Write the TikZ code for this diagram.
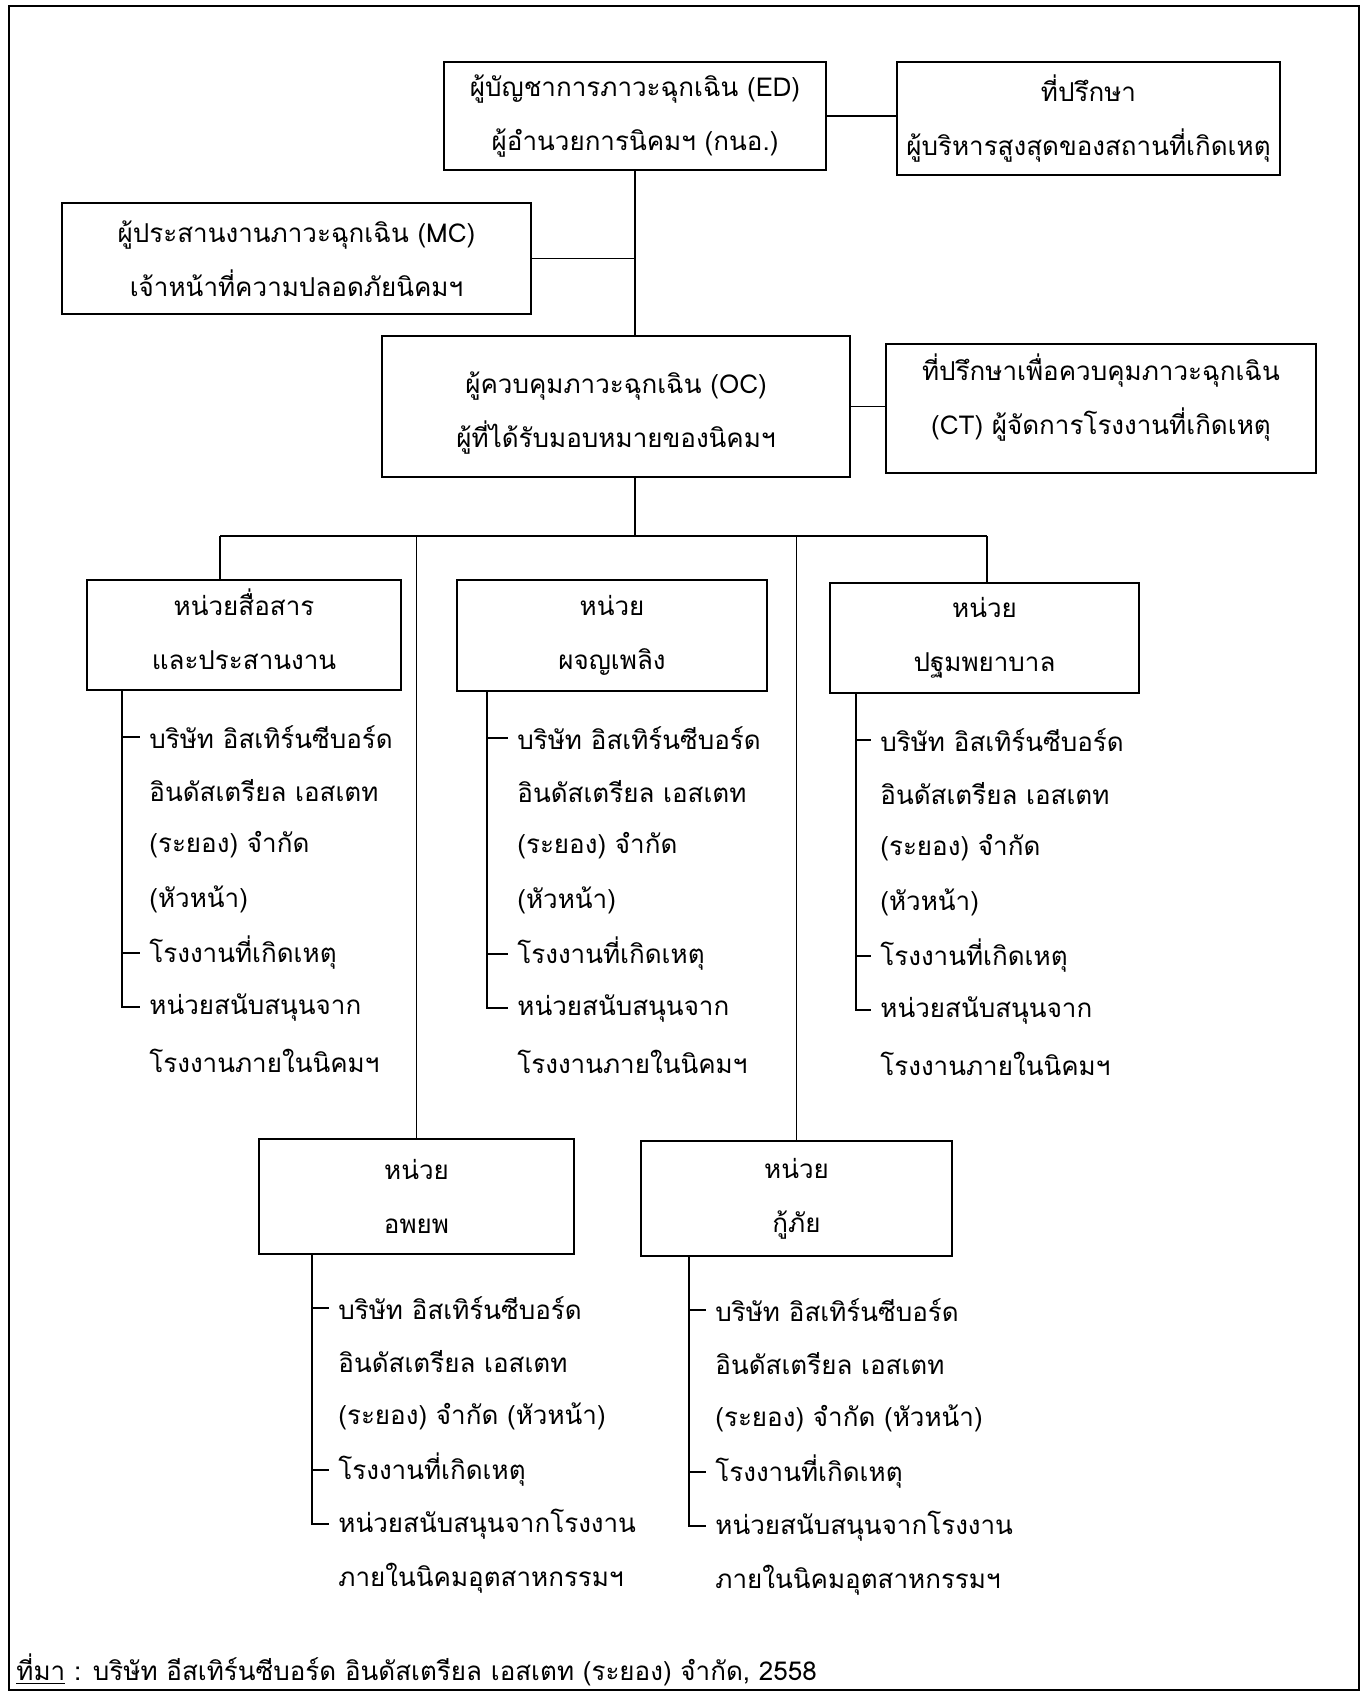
\documentclass[tikz,border=0pt]{standalone}
\usepackage{fontspec}
\newfontfamily\thaifont[Script=Thai]{Loma}
\usetikzlibrary{calc}

\begin{document}
\begin{tikzpicture}[
  x=0.5pt,
  y=-0.5pt,
  every node/.style={font=\thaifont\fontsize{13}{27}\selectfont, inner sep=0pt},
  orgbox/.style={draw, line width=1.1pt, align=center},
  link/.style={line width=0.6pt},
  frameline/.style={line width=1.2pt},
  item/.style={anchor=west}
]
  \useasboundingbox (0,0) rectangle (1368,1698);
  \draw[frameline] (9,6) rectangle (1359,1690);

  % ---- top levels ----
  \node[orgbox, minimum width=191pt, minimum height=54pt] (ed) at (635,116)
    {ผู้บัญชาการภาวะฉุกเฉิน (ED)\\ผู้อำนวยการนิคมฯ (กนอ.)};
  \node[orgbox, minimum width=191.5pt, minimum height=56.5pt] (adv) at (1088.5,118.5)
    {ที่ปรึกษา\\ผู้บริหารสูงสุดของสถานที่เกิดเหตุ};
  \node[orgbox, minimum width=234.5pt, minimum height=55.5pt] (mc) at (296.5,258.5)
    {ผู้ประสานงานภาวะฉุกเฉิน (MC)\\เจ้าหน้าที่ความปลอดภัยนิคมฯ};
  \node[orgbox, minimum width=234pt, minimum height=70.5pt,
        text height=44pt, text depth=2.8pt] (oc) at (616,406.5)
    {ผู้ควบคุมภาวะฉุกเฉิน (OC)\\ผู้ที่ได้รับมอบหมายของนิคมฯ};
  \node[orgbox, minimum width=215pt, minimum height=64.5pt,
        text height=37pt, text depth=11pt] (ct) at (1101,408.5)
    {ที่ปรึกษาเพื่อควบคุมภาวะฉุกเฉิน\\(CT) ผู้จัดการโรงงานที่เกิดเหตุ};

  \draw[link] (ed.east) -- (ed.east -| adv.west);
  \draw[link] (ed.south) -- (ed.south |- oc.north);
  \draw[link] (mc.east) -- (mc.east -| ed.south);
  \draw[link] (oc.east) -- (oc.east -| ct.west);

  % ---- units ----
  \node[orgbox, minimum width=157pt, minimum height=55pt,
        text height=38pt, text depth=3.3pt] (u1) at (244,635)
    {หน่วยสื่อสาร\\และประสานงาน};
  \node[orgbox, minimum width=155pt, minimum height=55.5pt] (u2) at (612,635.5)
    {หน่วย\\ผจญเพลิง};
  \node[orgbox, minimum width=154.5pt, minimum height=55pt] (u3) at (984.5,638)
    {หน่วย\\ปฐมพยาบาล};
  \node[orgbox, minimum width=157.5pt, minimum height=57.5pt] (u4) at (416.5,1196.5)
    {หน่วย\\อพยพ};
  \node[orgbox, minimum width=155.5pt, minimum height=57.5pt] (u5) at (796.5,1198.5)
    {หน่วย\\กู้ภัย};

  \coordinate (busL) at (220,536);
  \coordinate (busR) at (987,536);
  \draw[link] (ed.south |- oc.south) -- (ed.south |- busL);
  \draw[link] (busL) -- (busR);
  \draw[link] (busL) -- (busL |- u1.north);
  \draw[link] (busR) -- (busR |- u3.north);
  \draw[link] (u4.north |- busL) -- (u4.north);
  \draw[link] (u5.north |- busL) -- (u5.north);

  % ---- member lists ----
  \coordinate (s1) at (122,0);
  \coordinate (s2) at (487,0);
  \coordinate (s3) at (856,0);
  \coordinate (s4) at (312,0);
  \coordinate (s5) at (689,0);

  \foreach \n/\tx/\ty in {1/149/737, 2/517/738, 3/880/740}
    \foreach \txt [count=\i from 0] in {บริษัท อิสเทิร์นซีบอร์ด, อินดัสเตรียล เอสเตท,
        (ระยอง) จำกัด, (หัวหน้า), โรงงานที่เกิดเหตุ, หน่วยสนับสนุนจาก, โรงงานภายในนิคมฯ}
      \node[item] (l\n\i) at (\tx,\ty+54*\i) {\txt};

  \foreach \n/\tx/\ty in {4/338/1308, 5/715/1310}
    \foreach \txt [count=\i from 0] in {บริษัท อิสเทิร์นซีบอร์ด, อินดัสเตรียล เอสเตท,
        (ระยอง) จำกัด (หัวหน้า), โรงงานที่เกิดเหตุ, หน่วยสนับสนุนจากโรงงาน,
        ภายในนิคมอุตสาหกรรมฯ}
      \node[item] (l\n\i) at (\tx,\ty+54*\i) {\txt};

  \foreach \n/\ia/\ib in {1/4/5, 2/4/5, 3/4/5, 4/3/4, 5/3/4} {
    \draw[link, shorten >=4.5pt] (u\n.south -| s\n) |- (l\n\ib.west);
    \draw[link, shorten >=4.5pt] (s\n |- l\n0.west) -- (l\n0.west);
    \draw[link, shorten >=4.5pt] (s\n |- l\n\ia.west) -- (l\n\ia.west);
  }

  % ---- source ----
  \node[anchor=west] (src) at (16,1670)
    {\underline{ที่มา} : บริษัท อีสเทิร์นซีบอร์ด อินดัสเตรียล เอสเตท (ระยอง) จำกัด, 2558};
\end{tikzpicture}
\end{document}
